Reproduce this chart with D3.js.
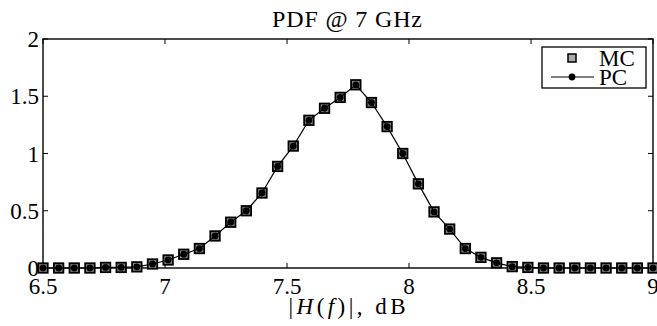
<!DOCTYPE html>
<html><head><meta charset="utf-8">
<script src="https://cdn.jsdelivr.net/npm/d3@7"></script>
<style>body{margin:0;background:#fff}svg{display:block}text{font-family:"Liberation Serif","DejaVu Serif",serif;fill:#000}</style>
</head><body>
<script>
const xStart = 6.5, xEnd = 9, nPts = 40;
const xValues = d3.range(nPts).map(k => xStart + k * (xEnd - xStart) / (nPts - 1));
const mcValues = [0,0,0,0,0.005,0.005,0.01,0.035,0.07,0.12,0.17,0.28,0.40,0.50,0.655,0.887,1.065,1.29,1.395,1.49,1.60,1.445,1.235,1.0,0.735,0.49,0.34,0.17,0.093,0.045,0.012,0.005,0,0,0,0,0,0,0,0];
const pcValues = mcValues.slice();
const xTicks = [6.5,7,7.5,8,8.5,9];
const yTicks = [0,0.5,1,1.5,2];
const title = "PDF @ 7 GHz";

const W=657,H=326, L=43,R=653,T=39,B=268;
const svg=d3.select("body").append("svg").attr("width",W).attr("height",H);
const x=d3.scaleLinear().domain([6.5,9]).range([L,R]);
const y=d3.scaleLinear().domain([0,2]).range([B,T]);
const fs=23;

svg.append("rect").attr("x",L).attr("y",T).attr("width",R-L).attr("height",B-T).attr("fill","none").attr("stroke","#000").attr("stroke-width",1.4);
const tl=5;
xTicks.forEach(t=>{
  svg.append("line").attr("x1",x(t)).attr("x2",x(t)).attr("y1",B).attr("y2",B-tl).attr("stroke","#000");
  svg.append("line").attr("x1",x(t)).attr("x2",x(t)).attr("y1",T).attr("y2",T+tl).attr("stroke","#000");
  svg.append("text").attr("x",x(t)).attr("y",B+26).attr("text-anchor","middle").attr("font-size",fs).text(t);
});
yTicks.forEach(t=>{
  svg.append("line").attr("x1",L).attr("x2",L+tl).attr("y1",y(t)).attr("y2",y(t)).attr("stroke","#000");
  svg.append("line").attr("x1",R).attr("x2",R-tl).attr("y1",y(t)).attr("y2",y(t)).attr("stroke","#000");
  svg.append("text").attr("x",L-4).attr("y",y(t)+8).attr("text-anchor","end").attr("font-size",fs).text(t);
});
svg.append("text").attr("x",347).attr("y",27).attr("text-anchor","middle").attr("font-size",24)
  .attr("textLength",150).attr("lengthAdjust","spacing").text(title);
const xl=svg.append("text").attr("x",347).attr("y",314).attr("text-anchor","middle").attr("font-size",fs)
  .attr("textLength",117).attr("lengthAdjust","spacing");
xl.append("tspan").text("|");
xl.append("tspan").attr("font-style","italic").text("H");
xl.append("tspan").text("(");
xl.append("tspan").attr("font-style","italic").text("f");
xl.append("tspan").text(")|, dB");

// MC squares
const ms=9.5;
svg.append("g").selectAll("rect").data(xValues).join("rect")
  .attr("x",d=>x(d)-ms/2).attr("y",(d,i)=>y(mcValues[i])-ms/2)
  .attr("width",ms).attr("height",ms).attr("fill","#888").attr("stroke","#000").attr("stroke-width",1.8);
// PC line
svg.append("path").datum(xValues).attr("fill","none").attr("stroke","#000").attr("stroke-width",1.2)
  .attr("d",d3.line().x(d=>x(d)).y((d,i)=>y(pcValues[i])));
svg.append("g").selectAll("circle").data(xValues).join("circle")
  .attr("cx",d=>x(d)).attr("cy",(d,i)=>y(pcValues[i])).attr("r",3.4).attr("fill","#000");

// Legend
const lg=svg.append("g");
lg.append("rect").attr("x",542).attr("y",47).attr("width",104).attr("height",41).attr("fill","#fff").attr("stroke","#000").attr("stroke-width",1.3);
lg.append("rect").attr("x",568).attr("y",54).attr("width",8).attr("height",8).attr("fill","#aaa").attr("stroke","#000").attr("stroke-width",1.5);
lg.append("line").attr("x1",551).attr("x2",594).attr("y1",77).attr("y2",77).attr("stroke","#000").attr("stroke-width",1.2);
lg.append("circle").attr("cx",572).attr("cy",77).attr("r",3.4).attr("fill","#000");
lg.append("text").attr("x",599).attr("y",66).attr("font-size",23).text("MC");
lg.append("text").attr("x",599).attr("y",85).attr("font-size",23).text("PC");
</script>
</body></html>
